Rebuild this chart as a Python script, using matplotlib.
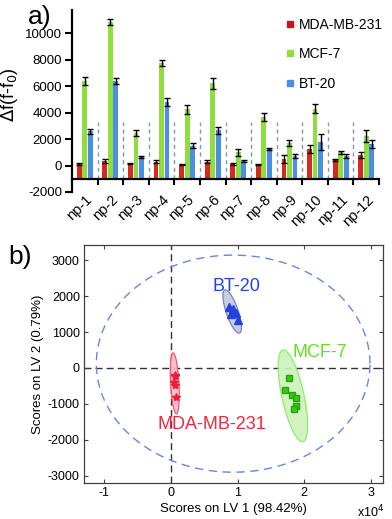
import numpy as np
import matplotlib
matplotlib.use("Agg")
import matplotlib.pyplot as plt
from matplotlib.lines import Line2D

plt.rcParams['font.family'] = ['Liberation Sans', 'DejaVu Sans']

# ---------------- data: panel a ----------------
samples = ['np-1', 'np-2', 'np-3', 'np-4', 'np-5', 'np-6',
           'np-7', 'np-8', 'np-9', 'np-10', 'np-11', 'np-12']
series_names = ['MDA-MB-231', 'MCF-7', 'BT-20']
mda_vals = [100, 330, 150, 300, 60, 280, 100, 100, 500, 1250, 400, 800]
mcf_vals = [6400, 10850, 2450, 7750, 4250, 6200, 1000, 3650, 1700, 4300, 1000, 2250]
bt_vals = [2580, 6380, 660, 4800, 1500, 2650, 350, 1250, 700, 1750, 700, 1600]
mda_err = [80, 150, 50, 80, 50, 100, 60, 50, 300, 300, 60, 200]
mcf_err = [300, 250, 200, 200, 350, 450, 250, 300, 200, 350, 100, 450]
bt_err = [200, 200, 80, 300, 200, 250, 60, 100, 150, 600, 150, 300]
yticks_a = [-2000, 0, 2000, 4000, 6000, 8000, 10000]

# ---------------- data: panel b ----------------
mda_x = [600, 650, 550, 700, 800]
mda_y = [-200, -220, -390, -470, -800]
mcf_x = [17700, 17100, 18100, 18700, 18700, 18400]
mcf_y = [-280, -610, -750, -830, -1050, -1140]
bt_x = [8800, 9300, 9000, 9700, 10000]
bt_y = [1700, 1650, 1500, 1520, 1330]
# ellipses: center x, center y, major half-axis (dx, dy), minor half-axis (dx, dy)
ell_mda = [600, -430, -250, 850, 630, 0]
ell_mcf = [18300, -775, -1500, 1275, 1620, 64]
ell_bt = [9200, 1570, -1100, 600, 850, 55]
ell_t2 = [9350, 120, 20500, 0, 0, 3020]
xticks_b = [-10000, 0, 10000, 20000, 30000]
yticks_b = [-3000, -2000, -1000, 0, 1000, 2000, 3000]

c_red = '#d42a22'
c_green = '#8fdd3f'
c_blue = '#4a8fe4'

W, H = 392, 519
fig = plt.figure(figsize=(W / 100, H / 100), dpi=100)

# ---------------- panel a ----------------
axa = fig.add_axes([72 / W, 1 - 192 / H, (379 - 72) / W, (192 - 10) / H])
x = np.arange(len(samples))
bw = 0.19
off = 0.215
base = -1000
for vals, errs, col, dx in [(mda_vals, mda_err, c_red, -off),
                            (mcf_vals, mcf_err, c_green, 0),
                            (bt_vals, bt_err, c_blue, off)]:
    v = np.array(vals)
    axa.bar(x + dx, v - base, bottom=base, width=bw, color=col, zorder=2)
    axa.errorbar(x + dx, v, yerr=errs, fmt='none', ecolor='black',
                 elinewidth=1.0, capsize=2.2, capthick=1.0, zorder=3)
for b in np.arange(0.5, len(samples) - 0.5, 1):
    axa.plot([b, b], [base, 3300], ls=(0, (3, 2.5)), color='#8a96a6', lw=1.0, zorder=1)

axa.set_xlim(-0.5, len(samples) - 0.5)
axa.set_ylim(-2000, 11750)
axa.spines['top'].set_visible(False)
axa.spines['right'].set_visible(False)
axa.spines['bottom'].set_position(('data', base))
axa.spines['left'].set_linewidth(1.6)
axa.spines['bottom'].set_linewidth(1.6)
axa.set_yticks(yticks_a)
axa.set_yticklabels([str(t) for t in yticks_a])
axa.tick_params(axis='y', direction='out', length=5, width=1.5, labelsize=9.5, pad=2)
axa.set_xticks(np.arange(0.5, len(samples), 1))
axa.set_xticklabels([])
axa.set_xticks(x, minor=True)
axa.set_xticklabels(samples, minor=True, rotation=45, ha='right',
                    rotation_mode='anchor', fontsize=10.5)
axa.tick_params(axis='x', which='major', direction='out', length=4, width=1.5)
axa.tick_params(axis='x', which='minor', length=0, pad=10)
fig.text(9 / W, 1 - 95 / H, r'$\Delta$f(f-f$_0$)', fontsize=13, rotation=90,
         ha='center', va='center')

handles = [Line2D([], [], marker='s', ls='', color=c, markersize=5)
           for c in ['#c01818', c_green, c_blue]]
fig.legend(handles, series_names, loc='upper left',
           bbox_to_anchor=(280 / W, 1 - 11 / H), frameon=False, fontsize=10,
           labelspacing=1.1, handlelength=0.5, handletextpad=0.35, borderpad=0)
fig.text(28 / W, 1 - 17 / H, 'a)', fontsize=19, va='center', ha='left')

# ---------------- panel b ----------------
axb = fig.add_axes([84 / W, 1 - 483 / H, (383 - 84) / W, (483 - 245) / H])
xl = (-13000, 31800)
yl = (-3200, 3420)


def ell_pts(p, n=200):
    t = np.linspace(0, 2 * np.pi, n)
    cx, cy, ax_, ay_, bx_, by_ = p
    return cx + ax_ * np.cos(t) + bx_ * np.sin(t), cy + ay_ * np.cos(t) + by_ * np.sin(t)


axb.axhline(0, color='#303040', lw=1.0, ls=(0, (5, 3)), zorder=1)
axb.axvline(0, color='#303040', lw=1.0, ls=(0, (5, 3)), zorder=1)
ex, ey = ell_pts(ell_t2)
axb.plot(ex, ey, color='#6a86e0', lw=1.0, ls=(0, (6, 4)), zorder=1)

for p, fc, ec in [(ell_mda, '#f8b9c6', '#f24a66'),
                  (ell_mcf, '#ccf2b8', '#86ea62'),
                  (ell_bt, '#c4c8de', '#6c78c4')]:
    ex, ey = ell_pts(p)
    axb.fill(ex, ey, facecolor=fc, edgecolor=ec, lw=0.9, alpha=0.9, zorder=2)

axb.plot(mda_x, mda_y, ls='', marker='*', color='#f01c3a', markersize=6, zorder=3)
axb.plot(bt_x, bt_y, ls='', marker='^', color='#2244dd', markersize=6, zorder=3)
axb.plot(mcf_x, mcf_y, ls='', marker='s', color='#38c81a', markersize=4.5,
         markeredgecolor='#2aa010', zorder=3)

axb.text(6100, -1580, 'MDA-MB-231', color='#f0283c', fontsize=13, ha='center', va='center')
axb.text(9800, 2270, 'BT-20', color='#2244dd', fontsize=13, ha='center', va='center')
axb.text(22300, 420, 'MCF-7', color='#66e022', fontsize=13, ha='center', va='center')

axb.set_xlim(*xl)
axb.set_ylim(*yl)
axb.set_xticks(xticks_b)
axb.set_xticklabels([f'{t / 10000:g}' for t in xticks_b])
axb.set_yticks(yticks_b)
axb.set_yticklabels([str(t) for t in yticks_b])
axb.tick_params(direction='in', length=3, width=0.8, top=True, right=True,
                labelsize=9, pad=3, color='#404040')
for s in axb.spines.values():
    s.set_linewidth(0.9)
    s.set_color('#404040')
axb.set_xlabel('Scores on LV 1 (98.42%)', fontsize=9.5, labelpad=3)
axb.set_ylabel('Scores on LV 2 (0.79%)', fontsize=9.5, labelpad=3)
fig.text(357 / W, 1 - 512 / H, r'x10$^4$', fontsize=9, va='center', ha='left')
fig.text(8 / W, 1 - 257 / H, 'b)', fontsize=19, va='center', ha='left')

fig.savefig('out.png', dpi=100)
